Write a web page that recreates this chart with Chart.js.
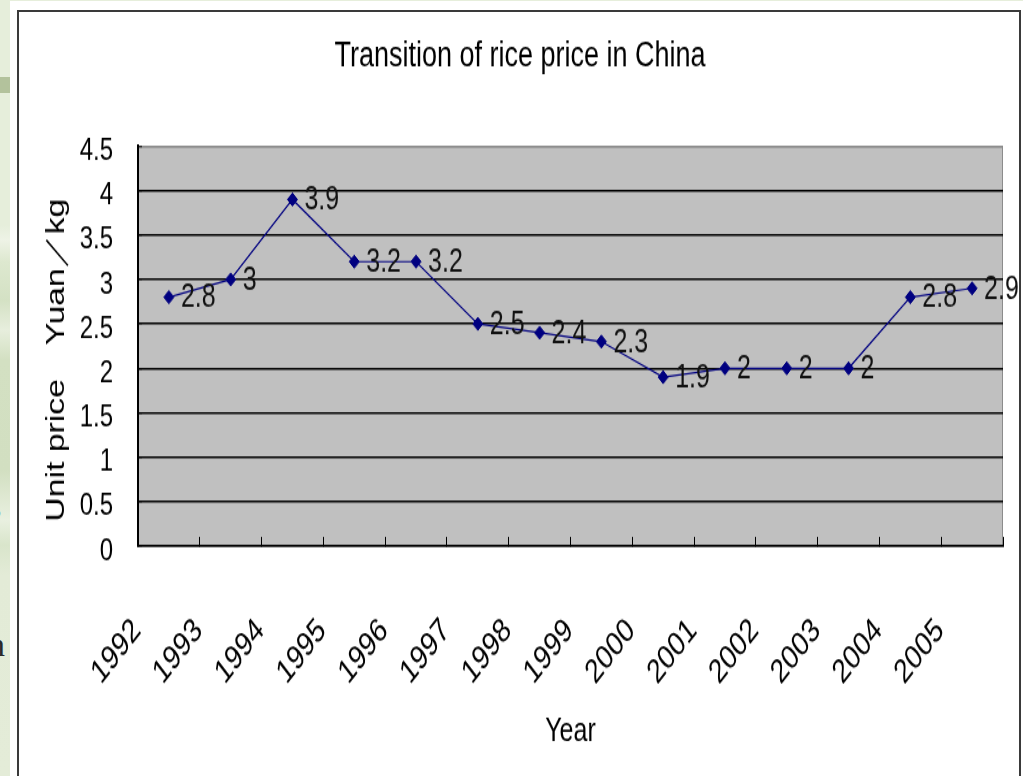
<!DOCTYPE html>
<html>
<head>
<meta charset="utf-8">
<script src="https://cdn.jsdelivr.net/npm/chart.js@4/dist/chart.umd.min.js"></script>
<style>
  html, body { margin: 0; padding: 0; }
  body {
    width: 1023px; height: 776px; overflow: hidden; position: relative;
    background: linear-gradient(to bottom,
      #e6eedb 0px, #e6eedb 225px, #eef3e6 240px, #dde8cf 262px,
      #d4e1c4 300px, #e7eedd 330px, #d3e0c2 360px, #d2dfc1 470px,
      #e9f0e0 520px, #d9e5cb 545px, #e3ebd7 575px, #e4ecd8 776px);
  }
  #band { position: absolute; left: 0; top: 77px; width: 10px; height: 16px; background: #b3c29c; }
  .frag { position: absolute; font-family: "Liberation Serif", "DejaVu Serif", serif; color: #2a2a2a; font-size: 34px; line-height: 1; }
  #sheet { position: absolute; left: 10px; top: 1px; right: 0; bottom: 0; background: #ffffff; }
  #frame { position: absolute; left: 17px; top: 10px; width: 1000px; height: 820px; border: 2px solid #3a3a3a; }
  #stage { position: absolute; left: 0; top: 0; width: 1023px; height: 597px; transform: scaleY(1.3); transform-origin: 0 0; }
</style>
</head>
<body>
<div id="band"></div>
<div class="frag" style="left:-12px; top:490px;">s</div>
<div class="frag" style="left:-12px; top:628px;">n</div>
<div id="sheet"></div>
<div id="frame"></div>
<div id="stage"><canvas id="c" width="1023" height="597"></canvas></div>
<script>
// Rice unit price by year (Yuan per kg)
const years = ['1992', '1993', '1994', '1995', '1996', '1997', '1998',
               '1999', '2000', '2001', '2002', '2003', '2004', '2005'];
const prices = [2.8, 3, 3.9, 3.2, 3.2, 2.5, 2.4, 2.3, 1.9, 2, 2, 2, 2.8, 2.9];

const yMin = 0;
const yMax = 4.5;
const yStep = 0.5;

const chartTitle = 'Transition of rice price in China';
const xTitle = 'Year';
const yTitle = 'Unit price\u3000Yuan\uFF0Fkg   ';

const FONT = '"Liberation Sans", Arial, sans-serif';

// Gray plot area with a thin border
const plotBackground = {
  id: 'plotBackground',
  beforeDraw(chart) {
    const { ctx, chartArea: a } = chart;
    ctx.save();
    ctx.fillStyle = '#c0c0c0';
    ctx.fillRect(a.left, a.top, a.right - a.left, a.bottom - a.top);
    ctx.strokeStyle = '#8c8c8c';
    ctx.lineWidth = 1;
    ctx.strokeRect(a.left + 0.5, a.top + 0.5, a.right - a.left - 1, a.bottom - a.top - 1);
    ctx.restore();
  }
};

// Value written to the right of each marker
const valueLabels = {
  id: 'valueLabels',
  afterDatasetsDraw(chart) {
    const { ctx } = chart;
    const meta = chart.getDatasetMeta(0);
    ctx.save();
    ctx.font = '25px ' + FONT;
    ctx.fillStyle = '#111';
    ctx.textAlign = 'left';
    ctx.textBaseline = 'middle';
    meta.data.forEach((pt, i) => {
      ctx.fillText(String(prices[i]), pt.x + 12, pt.y + 1);
    });
    ctx.restore();
  }
};

new Chart(document.getElementById('c'), {
  type: 'line',
  data: {
    labels: years,
    datasets: [{
      data: prices,
      borderColor: '#000080',
      borderWidth: 1.2,
      tension: 0,
      pointStyle: 'rectRot',
      pointRadius: 5,
      pointBackgroundColor: '#000080',
      pointBorderColor: '#000080',
      pointBorderWidth: 1,
      clip: false
    }]
  },
  options: {
    responsive: false,
    animation: false,
    devicePixelRatio: 1,
    layout: { padding: { left: 37, right: 20, top: 0, bottom: 0 } },
    plugins: {
      legend: { display: false },
      tooltip: { enabled: false },
      title: {
        display: true,
        text: chartTitle,
        color: '#000',
        font: { family: FONT, size: 27, weight: 'normal', lineHeight: 1.2 },
        padding: { top: 27, bottom: 53 }
      }
    },
    scales: {
      x: {
        offset: true,
        grid: {
          offset: true,
          drawOnChartArea: false,
          drawTicks: true,
          tickLength: -7,
          color: '#000',
          lineWidth: 1
        },
        border: { display: true, color: '#000', width: 1.5 },
        ticks: {
          autoSkip: false,
          minRotation: 45,
          maxRotation: 45,
          labelOffset: -32,
          padding: 57,
          color: '#000',
          font: { family: FONT, size: 26 }
        },
        title: {
          display: true,
          text: xTitle,
          color: '#000',
          font: { family: FONT, size: 25, lineHeight: 1.2 },
          padding: { top: 0, bottom: 19 }
        },
        afterFit(scale) {
          scale.height = 177;
          scale.paddingLeft = 0;
          scale.paddingRight = 0;
        }
      },
      y: {
        min: yMin,
        max: yMax,
        grid: {
          color: (c) => (c.tick && c.tick.value === yMax ? '#8c8c8c' : '#000'),
          lineWidth: 1.5,
          drawTicks: true,
          tickLength: -4,
          tickColor: '#000',
          tickWidth: 1
        },
        border: { display: true, color: '#000', width: 2 },
        ticks: {
          stepSize: yStep,
          padding: 29,
          labelOffset: 4,
          color: '#000',
          font: { family: FONT, size: 24 },
          callback: (v) => String(v)
        },
        title: {
          display: true,
          text: yTitle,
          color: '#000',
          font: { family: FONT, size: 26, lineHeight: 1.2 },
          padding: { top: 4, bottom: 0 }
        },
        afterFit(scale) { scale.width = 101; }
      }
    }
  },
  plugins: [plotBackground, valueLabels]
});
</script>
</body>
</html>
